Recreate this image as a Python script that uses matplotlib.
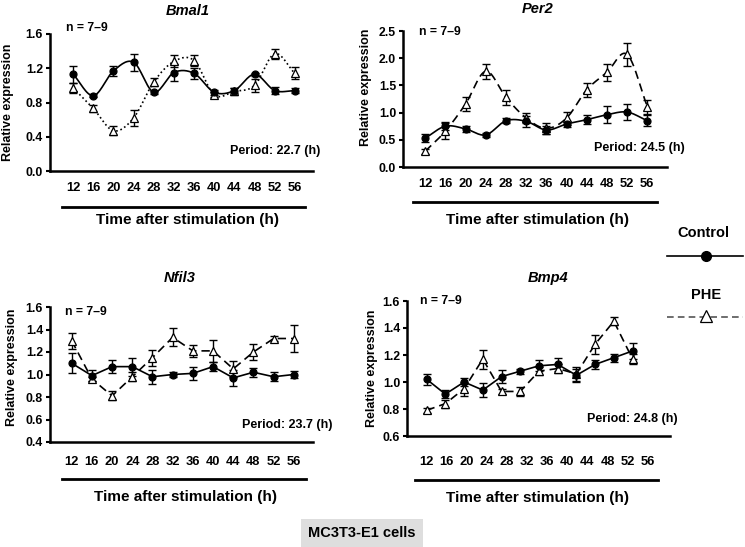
import numpy as np
import matplotlib
matplotlib.use("Agg")
import matplotlib.pyplot as plt
from matplotlib.lines import Line2D

plt.rcParams['font.family'] = ['Liberation Sans', 'DejaVu Sans']
plt.rcParams['font.weight'] = 'bold'

# ---------------- data ----------------
times = [12, 16, 20, 24, 28, 32, 36, 40, 44, 48, 52, 56]
tick_labels = [str(t) for t in times]

bmal1_ctrl = [1.13, 0.88, 1.17, 1.27, 0.92, 1.15, 1.14, 0.92, 0.94, 1.13, 0.94, 0.94]
bmal1_ctrl_err = [0.10, 0.02, 0.06, 0.10, 0.02, 0.10, 0.06, 0.03, 0.03, 0.02, 0.04, 0.03]
bmal1_phe = [0.97, 0.73, 0.47, 0.62, 1.04, 1.28, 1.29, 0.89, 0.93, 1.00, 1.37, 1.14]
bmal1_phe_err = [0.06, 0.04, 0.05, 0.09, 0.05, 0.07, 0.06, 0.03, 0.04, 0.08, 0.06, 0.07]

per2_ctrl = [0.53, 0.75, 0.70, 0.59, 0.85, 0.84, 0.68, 0.79, 0.87, 0.96, 1.01, 0.85]
per2_ctrl_err = [0.07, 0.07, 0.06, 0.04, 0.05, 0.10, 0.08, 0.06, 0.08, 0.16, 0.14, 0.10]
per2_phe = [0.29, 0.66, 1.16, 1.76, 1.28, 0.90, 0.71, 0.90, 1.42, 1.74, 2.07, 1.11]
per2_phe_err = [0.05, 0.14, 0.13, 0.14, 0.14, 0.10, 0.10, 0.12, 0.13, 0.15, 0.21, 0.13]

nfil3_ctrl = [1.10, 0.99, 1.07, 1.07, 0.98, 1.00, 1.01, 1.07, 0.97, 1.02, 0.98, 1.00]
nfil3_ctrl_err = [0.09, 0.05, 0.06, 0.08, 0.06, 0.02, 0.06, 0.04, 0.07, 0.04, 0.04, 0.03]
nfil3_phe = [1.30, 0.96, 0.81, 0.98, 1.15, 1.33, 1.21, 1.21, 1.05, 1.20, 1.32, 1.32]
nfil3_phe_err = [0.07, 0.02, 0.04, 0.04, 0.07, 0.08, 0.05, 0.10, 0.07, 0.07, 0.02, 0.12]

bmp4_ctrl = [1.02, 0.91, 1.00, 0.94, 1.04, 1.08, 1.12, 1.13, 1.05, 1.13, 1.18, 1.23]
bmp4_ctrl_err = [0.04, 0.03, 0.03, 0.05, 0.05, 0.02, 0.04, 0.05, 0.05, 0.03, 0.03, 0.06]
bmp4_phe = [0.79, 0.84, 0.95, 1.17, 0.93, 0.93, 1.08, 1.10, 1.06, 1.28, 1.45, 1.17]
bmp4_phe_err = [0.02, 0.03, 0.05, 0.07, 0.02, 0.03, 0.03, 0.03, 0.05, 0.07, 0.03, 0.04]

genes = ["Bmal1", "Per2", "Nfil3", "Bmp4"]
periods = ["22.7", "24.5", "23.7", "24.8"]

W, H = 745, 547
fig = plt.figure(figsize=(W / 100, H / 100), dpi=100)


def fx(px):
    return px / W


def fy(py):
    return 1 - py / H


def catmull(x, y, n=16):
    x = np.asarray(x, float)
    y = np.asarray(y, float)
    P = np.column_stack([x, y])
    P = np.vstack([2 * P[0] - P[1], P, 2 * P[-1] - P[-2]])
    out = []
    for i in range(1, len(P) - 2):
        p0, p1, p2, p3 = P[i - 1], P[i], P[i + 1], P[i + 2]
        t = np.linspace(0, 1, n, endpoint=False)[:, None]
        seg = 0.5 * ((2 * p1) + (-p0 + p2) * t + (2 * p0 - 5 * p1 + 4 * p2 - p3) * t ** 2
                     + (-p0 + 3 * p1 - 3 * p2 + p3) * t ** 3)
        out.append(seg)
    out.append(P[-2][None, :])
    out = np.vstack(out)
    return out[:, 0], out[:, 1]


# panel layout in pixel units
panels = [
    dict(gene="Bmal1", ctrl=bmal1_ctrl, ce=bmal1_ctrl_err, phe=bmal1_phe, pe=bmal1_phe_err,
         period=periods[0], box=(50, 34, 313, 171), ylim=(0, 1.6), yt=np.arange(0, 1.61, 0.4),
         fmt="%.1f", xlim=(7.4, 59.6), title=(188, 11), n=(66, 28), per=(320, 151),
         tl=188, line=(207, 62, 305), xl=(187, 220), yl=(8, 102), phe_ls=":", smooth=True,
         tick_scale=1.0),
    dict(gene="Per2", ctrl=per2_ctrl, ce=per2_ctrl_err, phe=per2_phe, pe=per2_phe_err,
         period=periods[1], box=(403, 31, 667, 167), ylim=(0, 2.5), yt=np.arange(0, 2.51, 0.5),
         fmt="%.1f", xlim=(7.6, 59.9), title=(538, 9), n=(419, 32), per=(685, 148),
         tl=184, line=(202, 413, 657), xl=(537, 220), yl=(366, 87), phe_ls=(0, (5, 3)), smooth=True,
         tick_scale=1.0),
    dict(gene="Nfil3", ctrl=nfil3_ctrl, ce=nfil3_ctrl_err, phe=nfil3_phe, pe=nfil3_phe_err,
         period=periods[2], box=(50, 307, 313, 442), ylim=(0.4, 1.6), yt=np.arange(0.4, 1.61, 0.2),
         fmt="%.1f", xlim=(7.7, 59.8), title=(180, 278), n=(65, 312), per=(333, 425),
         tl=462, line=(479, 62, 306), xl=(185, 497), yl=(12, 367), phe_ls=(0, (5, 3)), smooth=False,
         tick_scale=1.0),
    dict(gene="Bmp4", ctrl=bmp4_ctrl, ce=bmp4_ctrl_err, phe=bmp4_phe, pe=bmp4_phe_err,
         period=periods[3], box=(407, 301, 670, 436), ylim=(0.6, 1.6), yt=np.arange(0.6, 1.61, 0.2),
         fmt="%.1f", xlim=(7.8, 64.0), title=(548, 278), n=(420, 301), per=(678, 419),
         tl=462, line=(480, 415, 658), xl=(537, 498), yl=(372, 368), phe_ls=(0, (5, 3)), smooth=False,
         tick_scale=1.074),
]

for p in panels:
    l, t, r, b = p["box"]
    ax = fig.add_axes([fx(l), fy(b), (r - l) / W, (b - t) / H])
    ax.set_xlim(*p["xlim"])
    ax.set_ylim(*p["ylim"])
    for s in ["top", "right"]:
        ax.spines[s].set_visible(False)
    for s in ["left", "bottom"]:
        ax.spines[s].set_linewidth(1.8)
    ax.set_yticks(p["yt"])
    ax.set_yticklabels([p["fmt"] % v for v in p["yt"]], fontsize=8.8, fontweight="bold")
    ax.tick_params(axis="y", direction="out", length=3, width=1.5, pad=2)
    tpos = [12 + (tt - 12) * p["tick_scale"] for tt in times]
    ax.set_xticks(tpos)
    pad_pt = (p["tl"] - b - 6) / 1.389
    ax.set_xticklabels(tick_labels, fontsize=9.3, fontweight="bold")
    ax.tick_params(axis="x", length=0, pad=pad_pt)

    for yv, yerr, mk, mfc, ls in [(p["phe"], p["pe"], "^", "white", p["phe_ls"]),
                                  (p["ctrl"], p["ce"], "o", "black", "-")]:
        if p["smooth"]:
            sx, sy = catmull(times, yv)
            ax.plot(sx, sy, color="black", lw=1.2, ls=ls, zorder=2)
        else:
            ax.plot(times, yv, color="black", lw=1.2, ls=ls, zorder=2)
        ax.errorbar(times, yv, yerr=yerr, fmt="none", ecolor="black", elinewidth=1.0,
                    capsize=3, capthick=1.0, zorder=3)
        ax.plot(times, yv, ls="none", marker=mk, markersize=5 if mk == "o" else 5.5,
                markerfacecolor=mfc, markeredgecolor="black", markeredgewidth=0.9, zorder=4)

    fig.text(fx(p["title"][0]), fy(p["title"][1]), p["gene"], fontsize=10.5,
             fontweight="bold", style="italic", ha="center", va="center")
    fig.text(fx(p["n"][0]), fy(p["n"][1]), "n = 7–9", fontsize=8.8, fontweight="bold",
             ha="left", va="center")
    fig.text(fx(p["per"][0]), fy(p["per"][1]), "Period: %s (h)" % p["period"], fontsize=9,
             fontweight="bold", ha="right", va="center")
    ly, lx1, lx2 = p["line"]
    fig.add_artist(Line2D([fx(lx1), fx(lx2)], [fy(ly), fy(ly)], color="black", lw=2,
                          transform=fig.transFigure))
    fig.text(fx(p["xl"][0]), fy(p["xl"][1]), "Time after stimulation (h)", fontsize=11,
             fontweight="bold", ha="center", va="center")
    fig.text(fx(p["yl"][0]), fy(p["yl"][1]), "Relative expression", fontsize=9,
             fontweight="bold", rotation=90, ha="center", va="center")

# legend
fig.text(fx(703), fy(233), "Control", fontsize=10.5, fontweight="bold", ha="center", va="center")
fig.add_artist(Line2D([fx(667), fx(743)], [fy(256), fy(256)], color="black", lw=1.2,
                      transform=fig.transFigure))
fig.add_artist(Line2D([fx(706)], [fy(256)], marker="o", markersize=7, color="black",
                      transform=fig.transFigure))
fig.text(fx(706), fy(295), "PHE", fontsize=10.5, fontweight="bold", ha="center", va="center")
fig.add_artist(Line2D([fx(667), fx(743)], [fy(317), fy(317)], color="#555555", lw=1.2,
                      ls=(0, (4, 2.5)), transform=fig.transFigure))
fig.add_artist(Line2D([fx(706)], [fy(316)], marker="^", markersize=8, markerfacecolor="white",
                      markeredgecolor="black", markeredgewidth=0.9, ls="none",
                      transform=fig.transFigure))

fig.text(fx(362), fy(533), "MC3T3-E1 cells", fontsize=10.5, fontweight="bold", ha="center",
         va="center", bbox=dict(boxstyle="square,pad=0.5", facecolor="#dedede", edgecolor="none"))

fig.savefig("out.png", dpi=100)
